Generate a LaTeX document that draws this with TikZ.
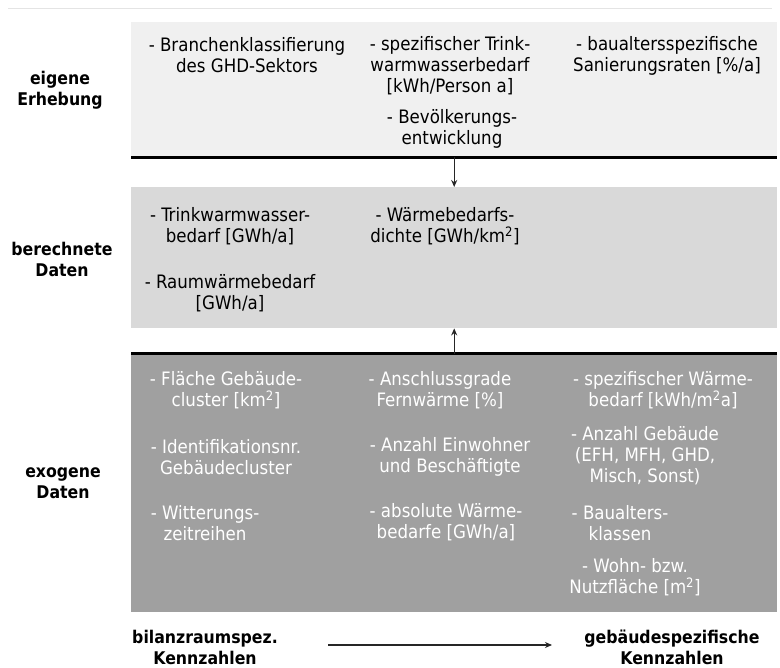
\documentclass[tikz,border=0pt]{standalone}
\usepackage{fontspec}
\setmainfont{DejaVu Sans Condensed}
\usetikzlibrary{arrows.meta}
\definecolor{boxA}{RGB}{240,240,240}
\definecolor{boxB}{RGB}{217,217,217}
\definecolor{boxC}{RGB}{160,160,160}
\definecolor{topline}{RGB}{228,228,228}
\tikzset{
  item/.style={align=center, inner sep=0pt, font=\fontsize{18.5}{21}\selectfont},
  itemw/.style={item, text=white},
  rowlabel/.style={align=center, inner sep=0pt, font=\fontsize{17.5}{21}\selectfont\bfseries},
  band/.style={draw=none, minimum width=646pt, inner sep=0pt, anchor=north west},
  thick rule/.style={line width=3pt, black},
  conn/.style={-{Stealth[length=7pt,width=6pt]}, line width=1.2pt, black!85}
}
\begin{document}
\begin{tikzpicture}[x=1pt,y=-1pt]
\useasboundingbox (0,0) rectangle (780,668);
\fill[white] (0,0) rectangle (780,668);
\draw[topline, line width=0.8pt] (8,8) -- (772,8);
% bands
\node[band, fill=boxA, minimum height=135pt] (A) at (131,22) {};
\node[band, fill=boxB, minimum height=141pt] (B) at (131,187) {};
\node[band, fill=boxC, minimum height=258pt] (C) at (131,354) {};
\draw[thick rule] (A.south west) -- (A.south east);
\draw[thick rule] (C.north west) -- (C.north east);
% connectors between bands
\draw[conn] (A.south) -- (B.north);
\draw[conn] (C.north) -- (B.south);
% row labels
\node[rowlabel] (lA) at (60,90) {eigene\\Erhebung};
\node[rowlabel] (lB) at (62,259) {berechnete\\Daten};
\node[rowlabel] (lC) at (63,483) {exogene\\Daten};
% band A items
\node[item] (a1) at (247,55.5) {- Branchenklassifierung\\des GHD-Sektors};
\node[item] (a2) at (450,66) {- spezifischer Trink-\\warmwasserbedarf\\{}[kWh/Person a]};
\node[item] (a3) at (452,129) {- Bevölkerungs-\\entwicklung};
\node[item] (a4) at (667,55.5) {- baualtersspezifische\\Sanierungsraten [\%/a]};
% band B items
\node[item] (b1) at (230,226.5) {- Trinkwarmwasser-\\bedarf [GWh/a]};
\node[item] (b2) at (445,226.5) {- Wärmebedarfs-\\dichte [GWh/km\textsuperscript{2}]};
\node[item] (b3) at (230,293.5) {- Raumwärmebedarf\\{}[GWh/a]};
% band C items
\node[itemw] (c1) at (226,390) {- Fläche Gebäude-\\cluster [km\textsuperscript{2}]};
\node[itemw] (c2) at (226,457.5) {- Identifikationsnr.\\Gebäudecluster};
\node[itemw] (c3) at (205,523.5) {- Witterungs-\\zeitreihen};
\node[itemw] (c4) at (440,390) {- Anschlussgrade\\Fernwärme [\%]};
\node[itemw] (c5) at (450,456.5) {- Anzahl Einwohner\\und Beschäftigte};
\node[itemw] (c6) at (446,522.5) {- absolute Wärme-\\bedarfe [GWh/a]};
\node[itemw] (c7) at (663,390) {- spezifischer Wärme-\\bedarf [kWh/m\textsuperscript{2}a]};
\node[itemw] (c8) at (645,456) {- Anzahl Gebäude\\(EFH, MFH, GHD,\\Misch, Sonst)};
\node[itemw] (c9) at (620,523.5) {- Baualters-\\klassen};
\node[itemw] (c10) at (635,577.5) {- Wohn- bzw.\\Nutzfläche [m\textsuperscript{2}]};
% bottom
\node[rowlabel] (k1) at (205,647.5) {bilanzraumspez.\\Kennzahlen};
\node[rowlabel] (k2) at (672,647.5) {gebäudespezifische\\Kennzahlen};
\coordinate (s) at (328,645);
\coordinate (e) at (552,645);
\draw[conn] (s) -- (e);
\end{tikzpicture}
\end{document}
